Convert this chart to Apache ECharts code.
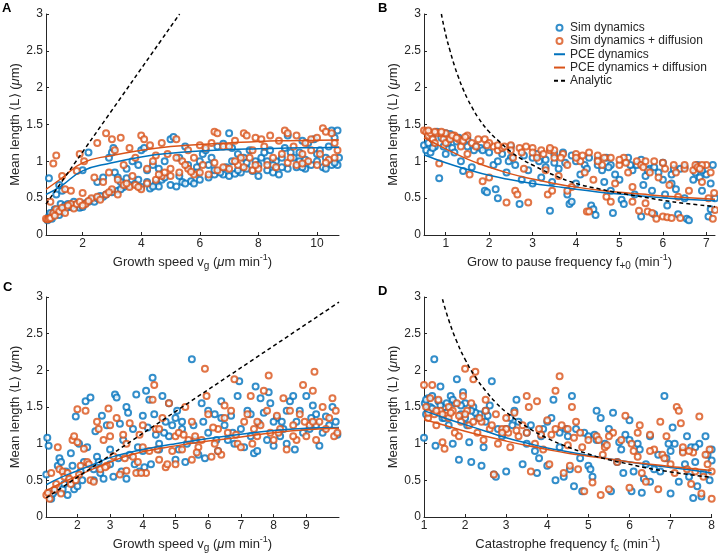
<!DOCTYPE html>
<html>
<head>
<meta charset="utf-8">
<script src="https://cdn.jsdelivr.net/npm/echarts@6/dist/echarts.min.js"></script>
<style>html,body{margin:0;padding:0;background:#fff}#c{width:718px;height:558px}</style>
</head>
<body>
<div id="c"></div>
<script>
// ---------- Panel A: growth speed ----------
const simA = [[0.8,0.2],[0.85,0.25],[0.9,0.3],[0.95,0.22],[1.0,0.28],[1.05,0.35],[1.1,0.3],[1.2,0.27],[1.25,0.42],[1.3,0.32],[1.4,0.4],[1.5,0.42],[1.6,0.38],[1.7,0.45],[1.8,0.4],[1.9,0.37],[2.0,0.38],[2.1,0.43],[2.2,0.45],[2.3,0.48],[2.4,0.45],[2.5,0.5],[2.7,0.52],[2.8,0.55],[3.0,0.58],[3.2,0.6],[3.4,0.65],[3.6,0.68],[3.8,0.7],[4.0,0.65],[4.2,0.72],[4.3,0.63],[4.5,0.7],[4.7,0.75],[5.0,0.68],[5.2,0.66],[5.4,0.72],[5.7,0.73],[5.8,0.7],[6.0,0.75],[6.3,0.78],[6.5,0.82],[6.8,0.82],[7.0,0.8],[7.2,0.83],[7.4,0.85],[7.8,0.87],[8.0,0.8],[8.3,0.88],[8.5,0.85],[8.7,0.82],[9.0,0.9],[9.3,0.92],[9.6,0.9],[9.8,0.95],[10.2,0.92],[10.5,0.95],[10.7,0.95],
[0.85,0.77],[1.1,0.55],[1.3,0.6],[1.2,0.68],[2.2,1.12],[2.0,0.88],[2.5,0.72],[2.7,0.78],[2.9,1.05],[3.0,1.12],[3.05,1.18],[3.1,0.85],[3.2,0.78],[3.3,0.72],[3.5,0.9],[3.7,1.0],[3.9,0.95],[4.0,1.15],[4.1,1.18],[4.2,0.88],[4.4,0.95],[4.6,0.9],[4.8,1.0],[5.0,1.3],[5.1,1.33],[5.3,1.05],[5.5,1.2],[5.6,0.95],[5.9,0.92],[6.1,1.1],[6.2,1.15],[6.4,1.05],[6.6,1.2],[6.8,1.24],[7.0,1.38],[7.1,1.18],[7.3,1.1],[7.5,1.05],[7.7,1.15],[7.9,1.0],[8.1,1.05],[8.2,1.12],[8.4,1.15],[8.6,1.0],[8.8,1.05],[8.9,1.18],[9.1,1.12],[9.2,1.05],[9.4,1.0],[9.6,1.02],[9.7,1.25],[9.9,1.3],[10.0,1.1],[10.1,1.15],[10.3,1.05],[10.4,1.2],[10.5,1.42],[10.6,1.32],[10.7,1.42],[10.75,1.05],[10.3,0.9],[9.5,0.92],[8.0,0.95],[7.6,0.9],[6.9,0.92],[6.5,0.88],[5.3,0.8],[4.8,0.78],[3.5,0.77],[9.0,1.35],[9.5,1.28],[5.9,0.85],[6.3,0.95],[7.3,0.88],[8.5,0.95],[4.6,0.66],[3.9,0.75],
[1.15,0.33],[1.45,0.37],[1.75,0.41],[2.6,0.53],[3.3,0.62],[4.4,0.66],[5.5,0.7],[6.7,0.85],[7.6,0.98],[8.8,0.92],[9.4,1.12],[10.0,1.0],[10.6,0.98],[6.0,1.0],[7.1,1.0],[8.3,1.0]];
const simDiffA = [[0.75,0.22],[0.8,0.21],[0.85,0.22],[0.9,0.23],[1.0,0.3],[1.1,0.35],[1.2,0.32],[1.3,0.37],[1.4,0.3],[1.6,0.42],[1.7,0.36],[1.8,0.42],[1.9,0.45],[2.1,0.42],[2.3,0.5],[2.5,0.52],[2.6,0.48],[2.8,0.55],[3.0,0.62],[3.2,0.55],[3.4,0.68],[3.6,0.65],[3.8,0.68],[4.0,0.62],[4.2,0.7],[4.5,0.75],[4.7,0.8],[5.0,0.8],[5.3,0.85],[5.6,0.9],[5.8,0.82],[6.0,0.85],[6.3,0.82],[6.6,0.88],[7.0,0.9],[7.3,0.95],[7.5,0.92],[7.8,0.88],[8.0,0.9],[8.3,0.95],[8.6,0.92],[9.0,0.98],[9.3,0.95],[9.7,1.0],[10.0,0.95],[10.4,1.02],[10.6,1.05],
[0.9,0.45],[1.0,0.97],[1.1,1.08],[1.3,0.8],[1.4,0.62],[1.6,0.6],[1.8,0.87],[1.9,1.1],[2.0,0.57],[2.05,1.0],[2.5,1.25],[2.4,0.78],[2.8,1.38],[2.9,0.85],[3.0,1.3],[3.1,1.15],[3.3,1.32],[3.4,0.95],[3.6,1.18],[3.8,1.05],[4.0,1.35],[4.1,1.3],[4.3,1.22],[4.5,1.08],[4.7,1.25],[4.9,1.1],[5.0,0.9],[5.2,1.3],[5.4,1.0],[5.6,1.15],[5.8,1.05],[6.0,1.22],[6.2,1.18],[6.4,1.25],[6.5,1.4],[6.6,1.38],[6.8,1.2],[7.0,1.2],[7.2,1.28],[7.4,1.05],[7.5,1.38],[7.6,1.35],[7.8,1.15],[7.9,1.32],[8.1,1.3],[8.2,1.2],[8.4,1.35],[8.5,1.05],[8.7,1.28],[8.9,1.42],[9.0,1.38],[9.2,1.2],[9.3,1.35],[9.5,1.1],[9.6,1.25],[9.8,1.3],[10.0,1.32],[10.2,1.45],[10.3,1.4],[10.5,1.38],[10.6,1.25],[10.7,1.15],[7.2,1.0],[6.5,0.98],[5.5,0.95],[4.8,0.85],[4.2,0.9],[3.7,0.8],[3.2,0.75],[2.7,0.72],[9.8,1.15],[8.8,1.1],[6.1,0.95],[7.7,1.05],[9.1,1.05],[10.1,1.1],[5.2,1.05],[4.4,1.0],
[1.05,0.26],[1.5,0.4],[2.2,0.46],[2.9,0.58],[3.5,0.7],[4.6,0.82],[5.7,0.86],[6.8,0.92],[7.9,0.95],[9.5,0.97],[10.3,0.98],[3.9,0.65],[2.0,0.4]];
const pceA = [[0.75,0.55],[1.25,0.66],[2,0.87],[3,0.98],[4,1.06],[5,1.11],[6,1.14],[7,1.16],[8,1.17],[9,1.18],[10,1.185],[10.75,1.19]];
const pceDiffA = [[0.75,0.62],[1.25,0.76],[2,0.98],[3,1.08],[4,1.15],[5,1.2],[6,1.23],[7,1.25],[8,1.27],[9,1.28],[10,1.285],[10.75,1.29]];
const analyticA = [[0.75,0.42],[5.31,3.0]];

// ---------- Panel B: grow to pause frequency ----------
const simB = [[0.5,1.22],[0.55,1.15],[0.6,1.25],[0.65,1.12],[0.7,1.3],[0.75,1.2],[0.8,1.4],[0.85,0.77],[0.9,1.32],[0.95,1.2],[1.0,1.38],[1.05,1.25],[1.1,1.37],[1.15,1.18],[1.2,1.12],[1.3,1.32],[1.35,1.0],[1.4,0.87],[1.5,1.3],[1.6,0.92],[1.7,1.2],[1.8,1.18],[1.85,1.15],[1.9,0.6],[1.95,0.58],[2.0,1.12],[2.1,0.95],[2.15,0.62],[2.2,0.5],[2.3,1.1],[2.4,0.85],[2.5,1.05],[2.6,0.95],[2.7,0.42],[2.75,0.75],[2.8,1.08],[2.9,0.88],[3.0,1.05],[3.1,1.1],[3.2,0.78],[3.3,0.92],[3.4,0.33],[3.45,0.72],[3.5,1.1],[3.6,0.9],[3.7,1.12],[3.8,0.55],[3.85,0.42],[3.9,0.45],[4.0,1.0],[4.1,0.82],[4.2,0.95],[4.3,1.05],[4.35,0.4],[4.4,0.35],[4.45,0.27],[4.5,0.95],[4.6,0.88],[4.65,0.72],[4.7,1.05],[4.8,0.6],[4.85,0.3],[4.9,0.82],[5.0,0.75],[5.05,0.48],[5.1,0.42],[5.2,1.05],[5.3,0.88],[5.35,0.55],[5.4,0.95],[5.5,0.25],[5.55,0.68],[5.6,0.8],[5.7,0.9],[5.75,0.6],[5.8,0.28],[5.9,0.85],[6.0,0.98],[6.05,0.55],[6.1,0.4],[6.2,0.7],[6.3,0.62],[6.35,0.28],[6.4,0.9],[6.5,0.5],[6.55,0.22],[6.6,0.2],[6.7,0.75],[6.75,0.85],[6.8,0.95],[6.9,0.6],[7.0,0.82],[7.05,0.25],[7.1,0.35],[7.15,0.95],[7.2,0.5],[1.0,1.1],[1.5,1.2],[2.5,1.2],[3.5,0.98],[4.5,1.02],[5.5,1.02],[6.5,0.92],[4.0,0.7],[3.0,0.7],[6.0,0.75],[0.6,1.4],[1.25,1.27],[2.2,1.0],[3.3,1.02],[3.9,1.08],[4.8,0.95],[5.8,0.92],[6.2,0.82],[6.9,0.88],
[0.7,1.18],[1.05,1.32],[1.65,1.15],[2.45,1.0],[3.15,1.0],[3.75,0.98],[4.25,0.9],[4.75,0.92],[5.25,0.95],[5.65,0.88],[6.25,0.9],[6.85,0.78],[7.1,0.7]];
const simDiffB = [[0.5,1.42],[0.55,1.4],[0.6,1.35],[0.65,1.38],[0.7,1.3],[0.75,1.25],[0.8,1.38],[0.85,0.97],[0.9,1.38],[0.95,1.3],[1.0,1.25],[1.1,1.3],[1.2,1.35],[1.3,1.3],[1.35,1.2],[1.4,1.28],[1.5,1.1],[1.55,0.82],[1.6,1.25],[1.7,1.2],[1.8,1.0],[1.85,0.73],[1.9,1.3],[2.0,0.78],[2.1,1.2],[2.2,1.15],[2.3,1.18],[2.4,0.44],[2.5,1.22],[2.55,1.05],[2.6,0.6],[2.65,0.55],[2.7,1.18],[2.8,0.9],[2.9,0.44],[3.0,1.18],[3.1,1.05],[3.2,1.15],[3.3,0.88],[3.35,0.55],[3.4,1.15],[3.45,0.6],[3.5,1.05],[3.6,0.8],[3.7,1.1],[3.8,0.95],[3.9,0.65],[4.0,1.1],[4.1,1.0],[4.2,0.85],[4.25,0.32],[4.3,0.32],[4.4,0.75],[4.5,1.08],[4.6,0.95],[4.7,0.52],[4.8,1.05],[4.9,0.7],[5.0,0.95],[5.1,1.05],[5.2,0.85],[5.3,0.65],[5.4,1.0],[5.45,0.33],[5.5,0.95],[5.6,0.43],[5.65,0.32],[5.7,0.85],[5.75,0.3],[5.8,1.0],[5.85,0.22],[5.9,0.78],[6.0,0.25],[6.05,0.9],[6.1,0.24],[6.15,0.68],[6.2,0.23],[6.3,0.85],[6.35,0.52],[6.4,0.23],[6.5,0.9],[6.6,0.6],[6.7,0.88],[6.75,0.95],[6.8,0.92],[6.9,0.72],[7.0,0.95],[7.05,0.5],[7.1,0.85],[7.15,0.22],[7.2,0.34],[7.18,0.57],[1.0,1.38],[1.5,1.35],[2.0,1.25],[2.5,1.15],[3.0,1.12],[3.5,1.15],[4.0,1.05],[4.5,1.0],[5.0,1.02],[6.0,0.98],[6.5,0.95],[3.8,0.6],[4.8,0.45],[5.3,0.45],[0.75,1.4],[1.15,1.35],[1.75,1.3],[2.35,1.2],[2.85,1.2],[3.4,1.18],[4.3,1.12],[5.6,1.0],[6.9,0.95],
[0.6,1.42],[0.9,1.4],[1.25,1.32],[1.45,1.33],[1.95,1.22],[2.2,1.22],[2.75,1.12],[3.25,1.1],[3.65,1.05],[4.15,1.08],[4.65,1.05],[5.15,0.98],[5.55,0.92],[6.25,0.95],[6.85,0.9]];
const pceB = [[0.5,1.09],[1,0.98],[1.5,0.89],[2,0.81],[2.5,0.75],[3,0.7],[3.5,0.66],[4,0.62],[4.5,0.585],[5,0.555],[5.5,0.53],[6,0.505],[6.5,0.485],[7.2,0.465]];
const pceDiffB = [[0.5,1.32],[1,1.17],[1.5,1.03],[2,0.92],[2.5,0.83],[3,0.76],[3.5,0.7],[4,0.65],[4.5,0.61],[5,0.58],[5.5,0.555],[6,0.53],[6.5,0.51],[7.2,0.485]];
const analyticB = [[0.9,3.0],[1.0,2.72],[1.1,2.5],[1.2,2.3],[1.3,2.13],[1.4,1.98],[1.5,1.85],[1.6,1.74],[1.75,1.59],[2.0,1.4],[2.25,1.26],[2.5,1.13],[2.75,1.03],[3.0,0.95],[3.5,0.81],[4.0,0.7],[4.5,0.63],[5.0,0.57],[5.5,0.52],[6.0,0.47],[6.5,0.43],[7.2,0.385]];

// ---------- Panel C: growth speed ----------
const simC = [[1.05,0.58],[1.08,1.08],[1.12,0.97],[1.15,0.3],[1.2,0.25],[1.3,0.35],[1.4,0.7],[1.45,0.8],[1.5,0.75],[1.55,0.38],[1.6,0.45],[1.7,0.3],[1.75,0.5],[1.8,0.87],[1.85,0.7],[1.9,0.38],[1.95,1.37],[2.0,0.42],[2.05,1.0],[2.1,0.62],[2.2,0.75],[2.25,1.58],[2.3,0.95],[2.4,1.63],[2.5,0.5],[2.55,1.17],[2.6,0.82],[2.7,0.6],[2.75,1.38],[2.8,0.52],[2.9,1.25],[3.0,0.72],[3.1,0.55],[3.15,1.67],[3.2,1.63],[3.3,1.27],[3.35,0.62],[3.4,1.05],[3.5,1.5],[3.55,1.42],[3.6,0.85],[3.7,1.2],[3.8,1.67],[3.85,0.95],[3.9,0.62],[4.0,1.38],[4.05,0.68],[4.1,1.72],[4.2,1.6],[4.25,0.72],[4.3,1.9],[4.35,1.4],[4.4,1.12],[4.5,0.92],[4.6,1.65],[4.7,1.3],[4.8,1.55],[4.9,1.25],[5.0,0.78],[5.05,1.45],[5.1,0.92],[5.2,1.2],[5.3,0.75],[5.5,2.15],[5.55,1.25],[5.6,1.05],[5.7,0.85],[5.8,1.55],[5.9,0.8],[6.0,1.15],[6.2,1.4],[6.3,0.9],[6.4,1.58],[6.5,1.25],[6.6,1.05],[6.7,1.38],[6.8,1.0],[6.9,1.65],[6.95,1.85],[7.0,1.2],[7.1,0.95],[7.2,1.45],[7.3,1.1],[7.4,0.87],[7.45,1.78],[7.5,0.9],[7.6,1.62],[7.7,1.42],[7.8,1.05],[7.85,1.7],[7.9,1.55],[8.0,0.97],[8.1,1.35],[8.2,1.1],[8.3,1.2],[8.4,1.0],[8.5,1.58],[8.6,1.65],[8.65,0.92],[8.7,1.3],[8.8,1.45],[8.9,1.15],[9.0,1.65],[9.1,1.2],[9.2,1.52],[9.3,1.4],[9.4,0.97],[9.5,1.15],[9.6,1.37],[9.7,1.25],[9.8,1.5],[9.9,1.3],[9.95,1.12],[4.0,0.9],[4.5,1.0],[5.0,1.35],[6.0,1.45],[3.5,0.52],[3.0,0.92],[2.5,0.65],[8.0,1.3],[4.8,1.1],[5.2,1.3],[6.4,1.35],[7.3,1.4],[8.4,1.45],[9.3,1.25],
[1.25,0.32],[1.65,0.62],[2.15,0.5],[2.65,0.75],[3.25,0.8],[3.75,0.72],[4.15,1.22],[4.65,1.15],[5.35,1.0],[5.85,1.3],[6.25,1.05],[6.75,1.15],[7.55,1.28],[8.25,1.3],[9.15,1.35]];
const simDiffC = [[1.05,0.3],[1.1,0.33],[1.15,0.25],[1.2,0.6],[1.3,0.37],[1.4,0.95],[1.45,0.65],[1.5,0.32],[1.55,0.62],[1.6,0.55],[1.7,0.6],[1.8,0.45],[1.85,1.05],[1.9,1.1],[1.95,0.5],[2.0,1.47],[2.05,0.58],[2.1,0.7],[2.2,0.93],[2.25,1.45],[2.3,0.75],[2.4,0.5],[2.5,0.48],[2.6,1.3],[2.65,1.2],[2.7,0.65],[2.8,1.05],[2.9,0.7],[2.95,1.48],[3.0,1.25],[3.1,0.83],[3.2,1.35],[3.3,0.58],[3.4,1.12],[3.5,0.63],[3.6,1.28],[3.7,0.82],[3.8,0.6],[3.85,0.75],[3.9,1.12],[4.0,1.25],[4.1,0.6],[4.2,0.9],[4.3,1.6],[4.35,1.8],[4.4,1.2],[4.5,0.78],[4.6,1.35],[4.7,0.68],[4.8,1.55],[4.9,0.9],[5.0,1.1],[5.1,1.15],[5.2,0.92],[5.3,1.5],[5.4,1.05],[5.5,0.78],[5.6,1.1],[5.7,0.95],[5.8,1.05],[5.9,2.02],[5.95,1.65],[6.0,1.4],[6.1,0.82],[6.2,1.0],[6.3,1.2],[6.4,0.85],[6.5,1.52],[6.6,1.15],[6.7,1.45],[6.8,1.88],[6.9,1.0],[7.0,0.95],[7.1,1.3],[7.2,1.4],[7.3,1.65],[7.4,1.2],[7.5,1.1],[7.6,1.25],[7.7,1.72],[7.8,1.45],[7.85,1.93],[7.9,1.15],[8.0,1.05],[8.1,1.38],[8.2,1.2],[8.3,1.62],[8.4,0.92],[8.5,1.45],[8.6,1.25],[8.7,1.05],[8.8,1.4],[8.9,1.8],[9.0,1.1],[9.1,1.25],[9.2,1.72],[9.25,1.98],[9.3,1.05],[9.4,1.3],[9.5,1.5],[9.6,1.2],[9.7,1.35],[9.8,1.62],[9.85,1.1],[9.9,1.45],[9.95,1.15],[4.0,0.95],[3.5,1.0],[5.0,0.72],[6.5,1.35],[3.0,1.1],[2.0,1.02],[4.5,1.2],[5.5,1.3],[6.3,0.9],[7.5,1.3],[8.6,1.1],[9.2,1.3],
[1.35,0.45],[1.75,0.52],[2.35,0.72],[2.85,0.68],[3.45,0.8],[3.95,0.6],[4.45,0.92],[4.75,0.72],[5.25,1.12],[5.65,0.88],[6.15,1.22],[6.85,1.12],[7.35,1.0],[8.15,1.15],[8.95,1.3]];
const pceC = [[1.05,0.44],[1.5,0.54],[2,0.63],[2.5,0.72],[3,0.81],[3.5,0.87],[4,0.92],[5,1.0],[6,1.07],[7,1.13],[8,1.18],[9,1.21],[10,1.22]];
const pceDiffC = [[1.05,0.36],[1.5,0.46],[2,0.56],[2.5,0.66],[3,0.75],[3.5,0.83],[4,0.89],[5,0.97],[6,1.035],[7,1.09],[8,1.15],[9,1.19],[10,1.21]];
const analyticC = [[1.05,0.26],[10,2.93]];

// ---------- Panel D: catastrophe frequency ----------
const simD = [[1.0,1.08],[1.02,1.55],[1.05,1.4],[1.1,1.62],[1.15,1.5],[1.2,1.65],[1.25,2.15],[1.28,0.97],[1.3,1.45],[1.35,1.58],[1.4,1.78],[1.45,1.35],[1.5,1.5],[1.55,1.42],[1.6,1.25],[1.65,1.65],[1.7,1.0],[1.75,1.55],[1.8,1.88],[1.85,0.78],[1.9,1.4],[1.95,1.7],[2.0,1.55],[2.05,1.25],[2.1,1.02],[2.15,0.75],[2.2,1.5],[2.3,1.35],[2.35,1.4],[2.4,0.7],[2.45,0.95],[2.5,1.45],[2.6,1.52],[2.65,1.85],[2.7,0.58],[2.75,0.55],[2.8,1.2],[2.9,1.1],[3.0,0.62],[3.1,1.35],[3.2,1.45],[3.25,1.6],[3.3,1.3],[3.4,0.72],[3.5,1.0],[3.6,1.25],[3.7,0.9],[3.75,0.6],[3.8,0.8],[3.9,1.2],[4.0,0.7],[4.1,1.35],[4.15,1.6],[4.2,0.5],[4.3,0.95],[4.4,0.55],[4.5,1.1],[4.55,0.65],[4.6,1.65],[4.65,0.42],[4.7,1.2],[4.8,0.8],[4.85,0.35],[4.9,1.15],[5.0,0.7],[5.05,0.65],[5.1,0.55],[5.2,1.45],[5.3,1.35],[5.4,1.0],[5.5,1.2],[5.55,0.35],[5.6,1.42],[5.7,0.75],[5.8,0.92],[5.85,0.6],[5.9,1.12],[6.0,1.32],[6.05,0.35],[6.1,0.62],[6.2,1.0],[6.3,0.33],[6.35,0.52],[6.4,0.72],[6.5,0.48],[6.6,0.65],[6.7,0.85],[6.75,0.62],[6.85,1.65],[6.9,0.8],[7.0,0.32],[7.05,1.22],[7.1,1.0],[7.2,0.48],[7.3,0.9],[7.35,0.72],[7.4,1.1],[7.45,0.55],[7.5,0.95],[7.55,0.26],[7.6,0.75],[7.65,0.42],[7.7,1.0],[7.75,0.28],[7.8,0.6],[7.85,1.1],[7.9,0.85],[7.95,0.5],[8.0,0.92],[8.0,0.77],[1.5,1.35],[2.0,1.35],[3.0,1.2],[4.0,1.3],[5.0,1.1],[6.0,1.05],[7.0,0.9],[1.1,1.45],[1.4,1.52],[1.7,1.6],[2.25,1.42],[2.5,1.3],[3.5,1.15],[4.3,1.15],[5.2,1.05],[6.5,1.1],
[1.05,1.6],[1.2,1.48],[1.55,1.55],[1.9,1.52],[2.15,1.45],[2.55,1.38],[3.15,1.25],[3.85,1.1],[4.45,1.2],[5.15,1.12],[5.75,1.02],[6.25,0.92],[6.95,1.0],[7.6,0.95]];
const simDiffD = [[1.0,1.8],[1.05,1.5],[1.1,1.35],[1.15,1.62],[1.2,1.8],[1.25,1.4],[1.3,1.25],[1.35,1.6],[1.4,1.45],[1.45,1.02],[1.5,0.93],[1.55,1.38],[1.6,1.5],[1.7,1.45],[1.75,1.15],[1.8,1.55],[1.85,1.1],[1.9,1.3],[1.95,1.65],[2.0,2.02],[2.05,1.45],[2.1,1.25],[2.15,1.55],[2.2,1.88],[2.25,1.98],[2.3,1.15],[2.4,1.3],[2.45,1.05],[2.5,1.6],[2.6,1.2],[2.7,0.58],[2.75,1.4],[2.8,1.0],[2.9,1.2],[3.0,1.35],[3.05,1.15],[3.1,0.95],[3.2,1.42],[3.3,1.1],[3.4,1.25],[3.5,1.65],[3.55,1.5],[3.6,0.62],[3.7,1.0],[3.75,1.58],[3.8,1.2],[3.9,0.92],[4.0,1.32],[4.05,0.72],[4.1,1.12],[4.2,1.72],[4.3,1.92],[4.35,1.25],[4.4,0.6],[4.5,0.98],[4.55,0.7],[4.6,1.5],[4.7,1.3],[4.75,0.65],[4.8,1.15],[4.85,0.95],[4.9,0.35],[5.0,1.05],[5.1,0.47],[5.2,1.1],[5.3,0.3],[5.35,0.85],[5.4,0.95],[5.5,0.38],[5.6,1.15],[5.7,0.75],[5.8,1.05],[5.9,1.38],[6.0,0.4],[6.1,0.9],[6.2,1.15],[6.25,1.25],[6.3,0.6],[6.4,0.48],[6.5,1.12],[6.6,0.92],[6.7,0.38],[6.75,1.3],[6.8,0.85],[6.9,1.1],[7.0,0.72],[7.1,0.6],[7.15,1.5],[7.2,1.45],[7.25,1.28],[7.3,0.88],[7.4,0.65],[7.5,0.45],[7.55,0.88],[7.6,0.62],[7.7,1.37],[7.75,0.32],[7.8,0.55],[7.9,0.72],[7.95,0.92],[8.0,0.62],[8.0,0.25],[1.6,1.35],[2.5,1.45],[3.5,1.15],[4.5,1.2],[5.5,1.1],[6.5,0.9],[2.0,1.4],[3.0,1.2],[1.3,1.45],[1.65,1.42],[2.35,1.35],[2.9,1.15],[4.2,1.2],[5.25,1.05],[6.2,0.82],[7.3,0.95],
[1.1,1.42],[1.45,1.4],[1.85,1.38],[2.2,1.3],[2.65,1.25],[3.25,1.18],[3.85,1.12],[4.65,1.08],[5.45,0.98],[6.05,1.0],[6.85,0.8],[7.45,0.9],[7.85,0.85]];
const pceD = [[1,1.45],[1.5,1.35],[2,1.26],[2.5,1.17],[3,1.08],[3.5,1.01],[4,0.94],[4.5,0.89],[5,0.84],[5.5,0.795],[6,0.75],[6.5,0.71],[7,0.675],[7.5,0.64],[8,0.6]];
const pceDiffD = [[1,1.33],[1.5,1.25],[2,1.17],[2.5,1.1],[3,1.035],[3.5,0.975],[4,0.92],[4.5,0.87],[5,0.83],[5.5,0.79],[6,0.75],[6.5,0.72],[7,0.69],[7.5,0.66],[8,0.635]];
const analyticD = [[1.45,2.97],[1.6,2.69],[1.8,2.39],[2.0,2.15],[2.25,1.91],[2.5,1.72],[2.75,1.56],[3.0,1.43],[3.5,1.23],[4.0,1.075],[4.5,0.955],[5.0,0.86],[5.5,0.78],[6.0,0.72],[6.5,0.66],[7.0,0.615],[7.5,0.575],[8.0,0.54]];

// ---------- axes / labels ----------
const yTicks = [0, 0.5, 1, 1.5, 2, 2.5, 3];
const xTicksA = [2, 4, 6, 8, 10];
const xTicksB = [1, 2, 3, 4, 5, 6, 7];
const xTicksC = [2, 3, 4, 5, 6, 7, 8, 9];
const xTicksD = [1, 2, 3, 4, 5, 6, 7, 8];
const xRanges = [[0.75, 10.75], [0.5, 7.2], [1.04, 10], [1, 8]];
const panelLetters = ['A', 'B', 'C', 'D'];
const legendNames = ['Sim dynamics', 'Sim dynamics + diffusion', 'PCE dynamics', 'PCE dynamics + diffusion', 'Analytic'];

const BLUE = '#0072BD', ORANGE = '#D95319', INK = '#262626';
const FONT = 'Liberation Sans, Arial, Helvetica, sans-serif';

const grids = [
  {left: 46, top: 14, width: 293, height: 221},
  {left: 424, top: 14, width: 291, height: 221},
  {left: 46, top: 297, width: 293, height: 220},
  {left: 424, top: 297, width: 291, height: 220}
];

const rich = {
  t: {fontSize: 13, fontFamily: FONT, color: INK, lineHeight: 18},
  it: {fontSize: 13, fontFamily: FONT, color: INK, fontStyle: 'italic', lineHeight: 18},
  sub: {fontSize: 10, fontFamily: FONT, color: INK, lineHeight: 9, verticalAlign: 'bottom'},
  sup: {fontSize: 9, fontFamily: FONT, color: INK, lineHeight: 8, verticalAlign: 'top'}
};
const xNames = [
  '{t|Growth speed v}{sub|g}{t| (}{it|μ}{t|m min}{sup|-1}{t|)}',
  '{t|Grow to pause frequency f}{sub|+0}{t| (min}{sup|-1}{t|)}',
  '{t|Growth speed v}{sub|g}{t| (}{it|μ}{t|m min}{sup|-1}{t|)}',
  '{t|Catastrophe frequency f}{sub|c}{t| (min}{sup|-1}{t|)}'
];
const yName = '{t|Mean length ⟨L⟩ (}{it|μ}{t|m)}';
const xTickSets = [xTicksA, xTicksB, xTicksC, xTicksD];

const xAxes = grids.map((g, i) => ({
  type: 'value', gridIndex: i, min: xRanges[i][0], max: xRanges[i][1],
  name: xNames[i], nameLocation: 'middle', nameGap: 18,
  nameTextStyle: {rich: rich},
  axisLine: {lineStyle: {color: INK, width: 1}},
  axisTick: {inside: true, length: 3, customValues: xTickSets[i], lineStyle: {color: INK}},
  axisLabel: {customValues: xTickSets[i], color: INK, fontSize: 12, fontFamily: FONT, margin: 3},
  splitLine: {show: false}
}));
const yAxes = grids.map((g, i) => ({
  type: 'value', gridIndex: i, min: 0, max: 3, interval: 0.5,
  name: yName, nameLocation: 'middle', nameGap: 22,
  nameTextStyle: {rich: rich},
  axisLine: {show: true, lineStyle: {color: INK, width: 1}},
  axisTick: {show: true, inside: true, length: 3, lineStyle: {color: INK}},
  axisLabel: {color: INK, fontSize: 12, fontFamily: FONT, margin: 3},
  splitLine: {show: false}
}));

const panels = [
  [simA, simDiffA, pceA, pceDiffA, analyticA],
  [simB, simDiffB, pceB, pceDiffB, analyticB],
  [simC, simDiffC, pceC, pceDiffC, analyticC],
  [simD, simDiffD, pceD, pceDiffD, analyticD]
];

const series = [];
panels.forEach((p, i) => {
  series.push({name: legendNames[0], type: 'scatter', xAxisIndex: i, yAxisIndex: i, data: p[0],
    symbol: 'emptyCircle', symbolSize: 6, itemStyle: {color: BLUE, borderColor: BLUE, borderWidth: 0.8}, z: 2});
  series.push({name: legendNames[1], type: 'scatter', xAxisIndex: i, yAxisIndex: i, data: p[1],
    symbol: 'emptyCircle', symbolSize: 6, itemStyle: {color: ORANGE, borderColor: ORANGE, borderWidth: 0.8}, z: 2});
  series.push({name: legendNames[2], type: 'line', xAxisIndex: i, yAxisIndex: i, data: p[2], smooth: true,
    symbol: 'none', lineStyle: {color: BLUE, width: 1.5}, itemStyle: {color: BLUE, opacity: 0}, z: 3});
  series.push({name: legendNames[3], type: 'line', xAxisIndex: i, yAxisIndex: i, data: p[3], smooth: true,
    symbol: 'none', lineStyle: {color: ORANGE, width: 1.5}, itemStyle: {color: ORANGE, opacity: 0}, z: 3});
  series.push({name: legendNames[4], type: 'line', xAxisIndex: i, yAxisIndex: i, data: p[4], smooth: true,
    symbol: 'none', lineStyle: {color: '#000', width: 1.5, type: [4, 3]}, itemStyle: {color: '#000', opacity: 0}, z: 4});
});

const letterPos = [[2, 2], [378, 2], [3, 281], [378, 285]];
const titles = panelLetters.map((l, i) => ({
  text: l, left: letterPos[i][0], top: letterPos[i][1], padding: 0,
  textStyle: {fontSize: 13, fontWeight: 'bold', fontFamily: FONT, color: '#000'}
}));

const chart = echarts.init(document.getElementById('c'), null, {renderer: 'canvas'});
chart.setOption({
  animation: false,
  backgroundColor: '#fff',
  title: titles,
  grid: grids,
  xAxis: xAxes,
  yAxis: yAxes,
  legend: {
    data: legendNames, orient: 'vertical', left: 553, top: 21, itemGap: 0,
    itemWidth: 11, itemHeight: 6, padding: 0,
    textStyle: {fontSize: 12, fontFamily: FONT, color: INK, lineHeight: 13.3}
  },
  series: series
});
</script>
</body>
</html>
